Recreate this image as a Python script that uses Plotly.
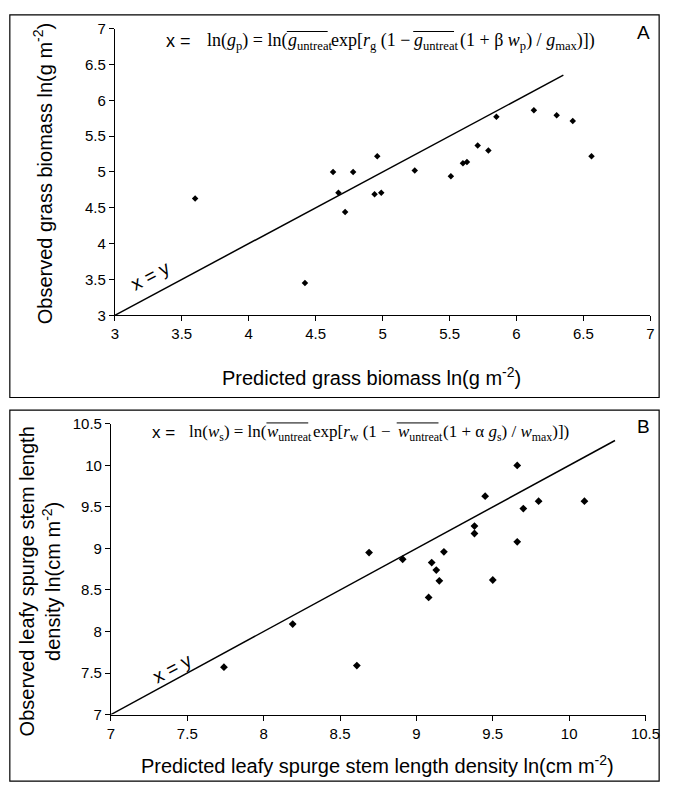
import plotly.graph_objects as go

# panel A: grass biomass, ln(g m-2)
grass_pred = [3.60, 4.42, 4.63, 4.67, 4.72, 4.78, 4.94, 4.96, 4.99, 5.24,
              5.51, 5.60, 5.63, 5.71, 5.79, 5.85, 6.13, 6.30, 6.42, 6.56]
grass_obs = [4.63, 3.45, 5.00, 4.71, 4.44, 5.00, 4.69, 5.22, 4.71, 5.02,
             4.94, 5.12, 5.14, 5.37, 5.30, 5.77, 5.86, 5.79, 5.71, 5.22]
grass_line = [3.0, 6.35]
grass_ticks = [3, 3.5, 4, 4.5, 5, 5.5, 6, 6.5, 7]

# panel B: leafy spurge stem length density, ln(cm m-2)
spurge_pred = [7.74, 8.19, 8.61, 8.69, 8.91, 9.08, 9.10, 9.13, 9.15, 9.18,
               9.38, 9.38, 9.45, 9.50, 9.66, 9.66, 9.70, 9.80, 10.10]
spurge_obs = [7.57, 8.09, 7.59, 8.95, 8.87, 8.41, 8.83, 8.74, 8.61, 8.96,
              9.27, 9.18, 9.63, 8.62, 10.00, 9.08, 9.48, 9.57, 9.57]
spurge_line = [7.0, 10.3]
spurge_ticks = [7, 7.5, 8, 8.5, 9, 9.5, 10, 10.5]

# equation pieces (overlined pieces marked True)
eq_a_parts = [
    ("<span style='font-family:Liberation Sans'>x =</span>", False),
    ("ln(<i>g</i><sub>p</sub>) = ln(", False),
    ("<i>g</i><sub>untreat</sub>", True),
    ("exp[<i>r</i><sub>g</sub> (1 \u2212", False),
    ("<i>g</i><sub>untreat</sub>", True),
    ("(1 + \u03b2 <i>w</i><sub>p</sub>) / <i>g</i><sub>max</sub>)])", False),
]
eq_b_parts = [
    ("<span style='font-family:Liberation Sans'>x =</span>", False),
    ("ln(<i>w</i><sub>s</sub>) = ln(", False),
    ("<i>w</i><sub>untreat</sub>", True),
    ("exp[<i>r</i><sub>w</sub> (1 \u2212", False),
    ("<i>w</i><sub>untreat</sub>", True),
    ("(1 + \u03b1 <i>g</i><sub>s</sub>) / <i>w</i><sub>max</sub>)])", False),
]

W, H = 679, 793
SANS = "Liberation Sans, Arial, sans-serif"
NARROW = "Liberation Sans Narrow, Arial Narrow, Liberation Sans, sans-serif"
SERIF = "Liberation Serif, Times New Roman, serif"


def px(x, y):
    # pixel position -> paper coords
    return x / W, 1 - y / H


fig = go.Figure()

# scatter points + x=y lines
fig.add_trace(go.Scatter(x=grass_pred, y=grass_obs, mode="markers",
                         marker=dict(symbol="diamond", size=5, color="black"),
                         xaxis="x", yaxis="y"))
fig.add_trace(go.Scatter(x=grass_line, y=grass_line, mode="lines",
                         line=dict(color="black", width=1.5), xaxis="x", yaxis="y"))
fig.add_trace(go.Scatter(x=spurge_pred, y=spurge_obs, mode="markers",
                         marker=dict(symbol="diamond", size=6, color="black"),
                         xaxis="x2", yaxis="y2"))
fig.add_trace(go.Scatter(x=spurge_line, y=spurge_line, mode="lines",
                         line=dict(color="black", width=1.5), xaxis="x2", yaxis="y2"))

axis_style = dict(showgrid=False, zeroline=False, showline=True, linecolor="black",
                  linewidth=1, ticks="outside", ticklen=5, tickcolor="black",
                  tickfont=dict(family=NARROW, size=15, color="black"))

fig.update_layout(
    width=W, height=H,
    margin=dict(l=0, r=0, t=0, b=0),
    paper_bgcolor="white", plot_bgcolor="white",
    showlegend=False,
    xaxis=dict(domain=[114 / W, 665 / W], range=[3, 7], tickvals=grass_ticks,
               anchor="y", **axis_style),
    yaxis=dict(domain=[1 - 313 / H, 1 - 20 / H], range=[3, 7], tickvals=grass_ticks,
               anchor="x", **axis_style),
    xaxis2=dict(domain=[110 / W, 660 / W], range=[7, 10.5], tickvals=spurge_ticks,
                anchor="y2", **axis_style),
    yaxis2=dict(domain=[1 - 721 / H, 1 - 424 / H], range=[7, 10.5], tickvals=spurge_ticks,
                anchor="x2", **axis_style),
)

# frames round each panel
fig.add_shape(type="rect", xref="paper", yref="paper", x0=6 / W, x1=674 / W,
              y0=1 - 397 / H, y1=1 - 6 / H, line=dict(color="black", width=1.2))
fig.add_shape(type="rect", xref="paper", yref="paper", x0=6 / W, x1=674 / W,
              y0=1 - 789 / H, y1=1 - 410 / H, line=dict(color="black", width=1.2))

title_font = dict(family=SANS, size=20, color="black")


def note(text, x, y, font, angle=0, xanchor="center"):
    fx, fy = px(x, y)
    fig.add_annotation(text=text, xref="paper", yref="paper", x=fx, y=fy,
                       xanchor=xanchor, yanchor="middle", textangle=angle,
                       showarrow=False, font=font)


# axis titles
note("Predicted grass biomass ln(g m<sup>-2</sup>)", 378, 376, title_font)
note("Observed grass biomass ln(g m<sup>-2</sup>)", 40, 168, title_font, angle=-90)
note("Predicted leafy spurge stem length density ln(cm m<sup>-2</sup>)", 384, 772, title_font)
note("Observed leafy spurge stem length<br>density ln(cm m<sup>-2</sup>)", 38, 585,
     title_font, angle=-90)

# panel letters
note("A", 658, 24, dict(family=SANS, size=19, color="black"))
note("B", 658, 427, dict(family=SANS, size=19, color="black"))

# x = y labels
fig.add_annotation(text="x = y", x=3.27, y=3.55, xref="x", yref="y", textangle=-28,
                   showarrow=False, font=dict(family=SANS, size=19, color="black"))
fig.add_annotation(text="x = y", x=7.4, y=7.55, xref="x2", yref="y2", textangle=-28,
                   showarrow=False, font=dict(family=SANS, size=19, color="black"))

# model equations, laid out piece by piece so the bars over the means can be drawn
eq_a_x = [165, 207, 290, 334, 420, 467]
eq_b_x = [150, 188, 269, 316, 403, 450]
for parts, xs, yc, size, bar_len in [(eq_a_parts, eq_a_x, 33, 18, 43),
                                     (eq_b_parts, eq_b_x, 433, 17, 44)]:
    eq_font = dict(family=SERIF, size=size, color="black")
    for i, (text, bar) in enumerate(parts):
        note(text, xs[i], yc, eq_font, xanchor="left")
        if bar:
            fig.add_shape(type="line", xref="paper", yref="paper",
                          x0=(xs[i] + 1) / W, x1=(xs[i] + bar_len) / W,
                          y0=1 - (yc - 10) / H, y1=1 - (yc - 10) / H,
                          line=dict(color="black", width=1))

fig.write_html("out.html", config={"displayModeBar": False},
               post_script="document.body.style.margin='0';")
